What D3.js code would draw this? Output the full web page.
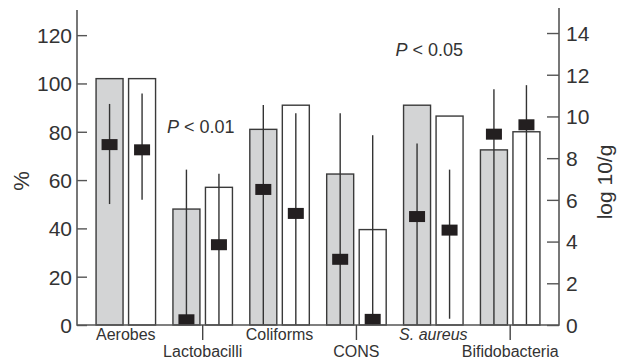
<!DOCTYPE html>
<html>
<head>
<meta charset="utf-8">
<script src="https://cdn.jsdelivr.net/npm/d3@7"></script>
<style>
  html, body { margin: 0; padding: 0; background: #fff; }
  svg { display: block; }
  text { font-family: "Liberation Sans", Arial, Helvetica, sans-serif; fill: #333; }
</style>
</head>
<body>
<svg id="chart" width="618" height="361"></svg>
<script>
// Bacterial groups
const categories = ["Aerobes", "Lactobacilli", "Coliforms", "CONS", "S. aureus", "Bifidobacteria"];

// Colonisation rate (%), left axis
const pctGray  = [102, 48, 81, 62.5, 91, 72.5];
const pctWhite = [102, 57, 91, 39.5, 86.5, 80];

// Counts (log 10/g), right axis: median with range
const logMedGray   = [8.65, 0.25, 6.5, 3.15, 5.2, 9.15];
const logLowGray   = [5.8, 0, 0, 0, 0, 0];
const logHighGray  = [10.6, 7.45, 10.55, 10.15, 8.7, 11.3];
const logMedWhite  = [8.4, 3.85, 5.35, 0.27, 4.55, 9.6];
const logLowWhite  = [6.0, 0, 0, 0, 0.3, 0];
const logHighWhite = [11.1, 7.25, 10.15, 9.1, 7.45, 11.5];

// Tick values
const leftTicks  = [0, 20, 40, 60, 80, 100, 120];
const rightTicks = [0, 2, 4, 6, 8, 10, 12, 14];

const svg = d3.select("#chart");
const left = 77, right = 559, base = 325;

const x = d3.scaleBand().domain(categories).range([left, right])
  .paddingInner(0.226).paddingOuter(0.248);
const xs = d3.scaleBand().domain(["gray", "white"]).range([0, x.bandwidth()])
  .paddingInner(0.17);
const yL = d3.scaleLinear().domain([0, 130]).range([base, 11]);
const yR = d3.scaleLinear().domain([0, 15.2]).range([base, 8]);

const rows = categories.map((c, i) => [
  { cat: c, key: "gray",  pct: pctGray[i],  med: logMedGray[i],  lo: logLowGray[i],  hi: logHighGray[i] },
  { cat: c, key: "white", pct: pctWhite[i], med: logMedWhite[i], lo: logLowWhite[i], hi: logHighWhite[i] }
]).flat();

// Bars
svg.append("g").selectAll("rect").data(rows).join("rect")
  .attr("x", d => x(d.cat) + xs(d.key))
  .attr("y", d => yL(d.pct))
  .attr("width", xs.bandwidth())
  .attr("height", d => yL(0) - yL(d.pct))
  .attr("fill", d => d.key === "gray" ? "#d3d4d5" : "#fff")
  .attr("stroke", "#3a3a3a")
  .attr("stroke-width", 1.4);

// Range whiskers
const cx = d => x(d.cat) + xs(d.key) + xs.bandwidth() / 2;
svg.append("g").selectAll("line").data(rows).join("line")
  .attr("x1", cx).attr("x2", cx)
  .attr("y1", d => yR(d.lo)).attr("y2", d => yR(d.hi))
  .attr("stroke", "#333").attr("stroke-width", 1.4);

// Median markers
const mw = 16, mh = 11;
svg.append("g").selectAll("rect").data(rows).join("rect")
  .attr("x", d => cx(d) - mw / 2)
  .attr("y", d => yR(d.med) - mh / 2)
  .attr("width", mw).attr("height", mh)
  .attr("fill", "#231f20");

// Left axis
const gL = svg.append("g").attr("transform", `translate(${left},0)`)
  .call(d3.axisRight(yL).tickValues(leftTicks).tickSize(10).tickFormat(d3.format("d")));
gL.select(".domain").remove();
gL.selectAll(".tick line").attr("stroke", "#555").attr("stroke-width", 1.4);
gL.selectAll(".tick text").attr("x", -5).attr("text-anchor", "end")
  .attr("font-size", 21).attr("dy", "0.35em").attr("fill", "#333")
  .style("font-family", "'Liberation Sans', Arial, sans-serif");
svg.append("line").attr("x1", left).attr("x2", left).attr("y1", 10).attr("y2", base + 0.7)
  .attr("stroke", "#555").attr("stroke-width", 1.6);

// Right axis
const gR = svg.append("g").attr("transform", `translate(${right},0)`)
  .call(d3.axisLeft(yR).tickValues(rightTicks).tickSize(12).tickFormat(d3.format("d")));
gR.select(".domain").remove();
gR.selectAll(".tick line").attr("stroke", "#555").attr("stroke-width", 1.4);
gR.selectAll(".tick text").attr("x", 7).attr("text-anchor", "start")
  .attr("font-size", 21).attr("dy", "0.35em").attr("fill", "#333")
  .style("font-family", "'Liberation Sans', Arial, sans-serif");
svg.append("line").attr("x1", right).attr("x2", right).attr("y1", 8).attr("y2", base + 0.7)
  .attr("stroke", "#555").attr("stroke-width", 1.6);

// Baseline
svg.append("line").attr("x1", left).attr("x2", right).attr("y1", base).attr("y2", base)
  .attr("stroke", "#555").attr("stroke-width", 1.6);

// Category labels, staggered on two rows
const labels = svg.append("g");
categories.forEach((c, i) => {
  const mx = x(c) + x.bandwidth() / 2;
  const second = i % 2 === 1;
  if (second) {
    labels.append("line").attr("x1", mx).attr("x2", mx).attr("y1", base).attr("y2", base + 15)
      .attr("stroke", "#444").attr("stroke-width", 1.4);
  }
  labels.append("text")
    .attr("x", mx).attr("y", second ? 357 : 340)
    .attr("text-anchor", "middle").attr("font-size", 16)
    .style("font-style", c === "S. aureus" ? "italic" : "normal")
    .text(c);
});

// Axis titles
svg.append("text").attr("transform", `translate(29,181) rotate(-90)`)
  .attr("text-anchor", "middle").attr("font-size", 22).text("%");
svg.append("text").attr("transform", `translate(612,182) rotate(-90)`)
  .attr("text-anchor", "middle").attr("font-size", 21).text("log 10/g");

// Significance notes
function pNote(px, py, val) {
  const t = svg.append("text").attr("x", px).attr("y", py).attr("font-size", 18);
  t.append("tspan").style("font-style", "italic").text("P");
  t.append("tspan").text(" < " + val);
}
pNote(x("Lactobacilli") - 6, yL(79.5), "0.01");
pNote(x("S. aureus") - 8, yL(111.5), "0.05");
</script>
</body>
</html>
